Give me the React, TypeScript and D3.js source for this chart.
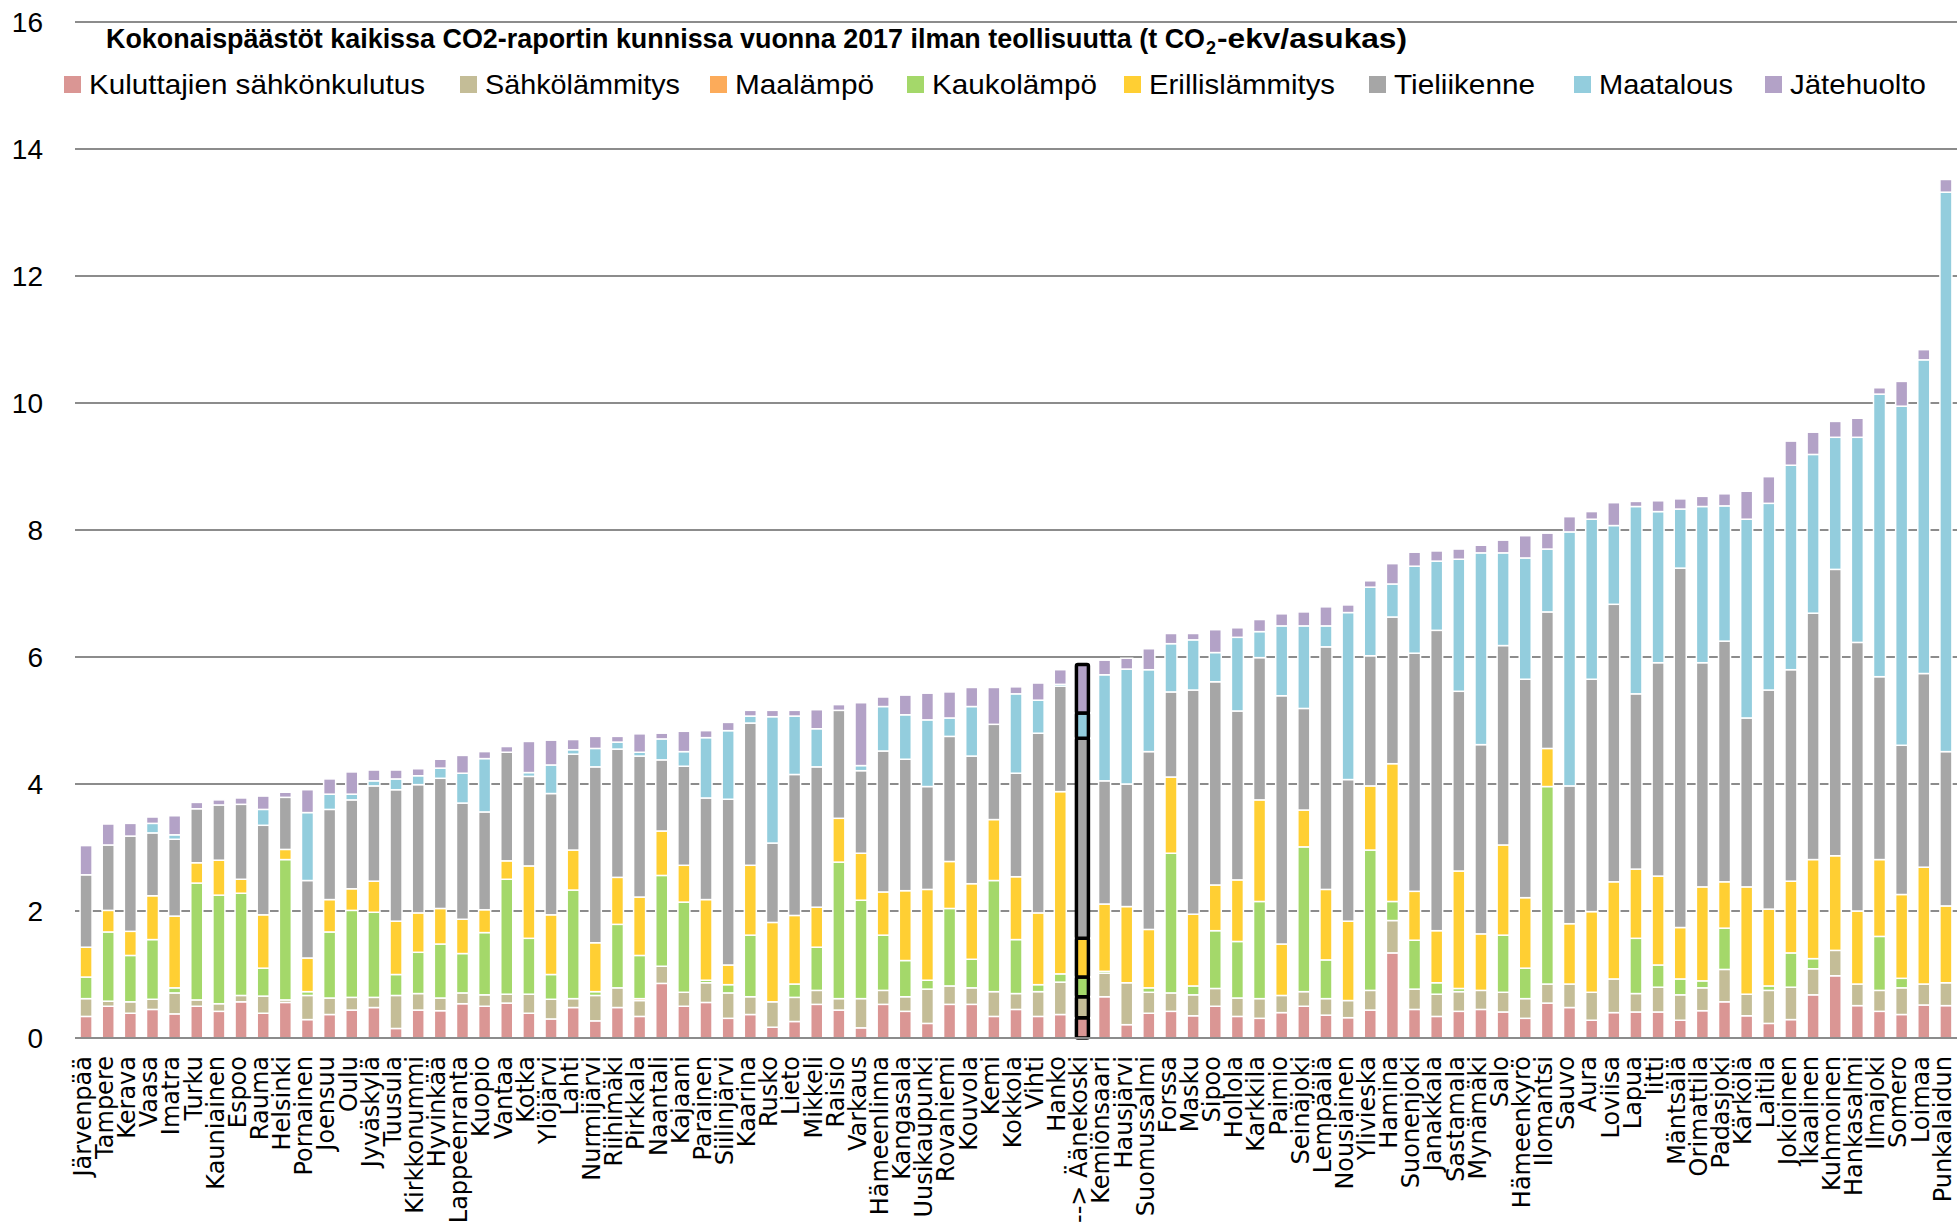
import React from "react";
import * as d3 from "d3";

// Municipalities in ascending order of total per-capita emissions
const municipalities = [
  "Järvenpää", "Tampere", "Kerava", "Vaasa", "Imatra", "Turku", "Kauniainen", "Espoo", "Rauma", "Helsinki",
  "Pornainen", "Joensuu", "Oulu", "Jyväskylä", "Tuusula", "Kirkkonummi", "Hyvinkää", "Lappeenranta", "Kuopio", "Vantaa",
  "Kotka", "Ylöjärvi", "Lahti", "Nurmijärvi", "Riihimäki", "Pirkkala", "Naantali", "Kajaani", "Parainen", "Siilinjärvi",
  "Kaarina", "Rusko", "Lieto", "Mikkeli", "Raisio", "Varkaus", "Hämeenlinna", "Kangasala", "Uusikaupunki", "Rovaniemi",
  "Kouvola", "Kemi", "Kokkola", "Vihti", "Hanko", "--> Äänekoski", "Kemiönsaari", "Hausjärvi", "Suomussalmi", "Forssa",
  "Masku", "Sipoo", "Hollola", "Karkkila", "Paimio", "Seinäjoki", "Lempäälä", "Nousiainen", "Ylivieska", "Hamina",
  "Suonenjoki", "Janakkala", "Sastamala", "Mynämäki", "Salo", "Hämeenkyrö", "Ilomantsi", "Sauvo", "Aura", "Loviisa",
  "Lapua", "Iitti", "Mäntsälä", "Orimattila", "Padasjoki", "Kärkölä", "Laitila", "Jokioinen", "Ikaalinen", "Kuhmoinen",
  "Hankasalmi", "Ilmajoki", "Somero", "Loimaa", "Punkalaidun",
];
const highlighted = "--> Äänekoski";

// t CO2-ekv / asukas per sector
const kuluttajienSahkonkulutus = [
  0.34, 0.50, 0.39, 0.45, 0.38, 0.50, 0.42, 0.57, 0.39, 0.56,
  0.29, 0.37, 0.44, 0.48, 0.15, 0.44, 0.43, 0.54, 0.50, 0.55,
  0.39, 0.30, 0.48, 0.27, 0.48, 0.34, 0.86, 0.50, 0.56, 0.31,
  0.37, 0.17, 0.26, 0.53, 0.44, 0.16, 0.53, 0.42, 0.23, 0.53,
  0.53, 0.34, 0.45, 0.34, 0.37, 0.32, 0.65, 0.21, 0.39, 0.42,
  0.35, 0.50, 0.34, 0.31, 0.40, 0.50, 0.36, 0.32, 0.44, 1.34,
  0.45, 0.34, 0.42, 0.45, 0.41, 0.31, 0.55, 0.48, 0.28, 0.40,
  0.41, 0.41, 0.28, 0.43, 0.57, 0.35, 0.23, 0.29, 0.68, 0.98,
  0.51, 0.42, 0.37, 0.52, 0.51,
];
const sahkolammitys = [
  0.28, 0.08, 0.18, 0.16, 0.33, 0.10, 0.12, 0.10, 0.27, 0.04,
  0.38, 0.26, 0.20, 0.16, 0.52, 0.26, 0.20, 0.17, 0.18, 0.14,
  0.30, 0.31, 0.14, 0.40, 0.31, 0.25, 0.27, 0.22, 0.31, 0.40,
  0.28, 0.40, 0.38, 0.22, 0.18, 0.46, 0.22, 0.23, 0.54, 0.29,
  0.26, 0.39, 0.25, 0.39, 0.51, 0.33, 0.37, 0.66, 0.33, 0.29,
  0.33, 0.28, 0.29, 0.31, 0.27, 0.23, 0.26, 0.27, 0.31, 0.51,
  0.32, 0.35, 0.31, 0.30, 0.31, 0.31, 0.30, 0.37, 0.44, 0.53,
  0.29, 0.39, 0.40, 0.36, 0.51, 0.34, 0.52, 0.51, 0.41, 0.40,
  0.34, 0.33, 0.42, 0.33, 0.36,
];
const maalampo = [
  0, 0, 0, 0, 0, 0, 0, 0, 0, 0,
  0, 0, 0, 0, 0, 0, 0, 0, 0, 0,
  0, 0, 0, 0, 0, 0.03, 0, 0, 0, 0,
  0, 0, 0, 0, 0, 0, 0, 0, 0, 0,
  0, 0, 0, 0, 0, 0, 0, 0, 0, 0,
  0, 0, 0, 0, 0, 0, 0, 0, 0, 0,
  0, 0, 0, 0, 0, 0, 0, 0, 0, 0,
  0, 0, 0, 0, 0, 0, 0, 0, 0, 0,
  0, 0, 0, 0, 0,
];
const kaukolampo = [
  0.34, 1.09, 0.73, 0.94, 0.08, 1.84, 1.71, 1.61, 0.44, 2.21,
  0.06, 1.04, 1.37, 1.34, 0.33, 0.65, 0.85, 0.62, 0.98, 1.81,
  0.88, 0.39, 1.71, 0.06, 1.00, 0.68, 1.43, 1.42, 0.04, 0.13,
  0.97, 0, 0.21, 0.68, 2.15, 1.55, 0.87, 0.57, 0.14, 1.22,
  0.45, 1.75, 0.85, 0.11, 0.13, 0.31, 0.03, 0, 0.07, 2.20,
  0.14, 0.91, 0.89, 1.53, 0, 2.28, 0.61, 0, 2.21, 0.30,
  0.77, 0.18, 0.05, 0, 0.90, 0.48, 3.11, 0, 0, 0,
  0.87, 0.35, 0.25, 0.11, 0.65, 0, 0.07, 0.54, 0.16, 0,
  0, 0.85, 0.15, 0, 0,
];
const erillislammitys = [
  0.47, 0.34, 0.38, 0.69, 1.13, 0.32, 0.55, 0.22, 0.84, 0.16,
  0.53, 0.51, 0.34, 0.49, 0.84, 0.62, 0.56, 0.54, 0.36, 0.29,
  1.14, 0.94, 0.63, 0.77, 0.74, 0.92, 0.70, 0.58, 1.27, 0.31,
  1.10, 1.25, 1.08, 0.63, 0.69, 0.74, 0.68, 1.10, 1.43, 0.74,
  1.19, 0.96, 0.99, 1.13, 2.87, 0.61, 1.06, 1.20, 0.92, 1.20,
  1.13, 0.72, 0.97, 1.60, 0.81, 0.58, 1.11, 1.25, 1.01, 2.17,
  0.77, 0.82, 1.85, 0.89, 1.42, 1.11, 0.60, 0.95, 1.27, 1.53,
  1.09, 1.40, 0.81, 1.48, 0.73, 1.69, 1.21, 1.13, 1.56, 1.49,
  1.15, 1.21, 1.32, 1.84, 1.21,
];
const tieliikenne = [
  1.14, 1.03, 1.50, 0.99, 1.21, 0.85, 0.87, 1.18, 1.41, 0.82,
  1.22, 1.42, 1.40, 1.50, 2.07, 2.02, 2.05, 1.83, 1.54, 1.71,
  1.41, 1.91, 1.51, 2.77, 2.02, 2.22, 1.12, 1.56, 1.60, 2.61,
  2.24, 1.25, 2.22, 2.21, 1.70, 1.30, 2.22, 2.07, 1.62, 1.97,
  2.01, 1.50, 1.63, 2.83, 1.66, 3.15, 1.94, 1.93, 2.80, 1.34,
  3.53, 3.20, 2.66, 2.24, 3.91, 1.60, 3.82, 2.23, 2.05, 2.31,
  3.75, 4.73, 2.83, 2.98, 3.14, 3.44, 2.15, 2.17, 3.66, 4.37,
  2.76, 3.36, 5.66, 3.53, 3.79, 2.66, 3.45, 3.33, 3.88, 4.51,
  4.23, 2.88, 2.35, 3.05, 2.43,
];
const maatalous = [
  0, 0, 0, 0.15, 0.07, 0, 0, 0, 0.25, 0,
  1.07, 0.24, 0.09, 0.08, 0.17, 0.14, 0.16, 0.47, 0.84, 0,
  0.06, 0.45, 0.07, 0.29, 0.11, 0.06, 0.33, 0.23, 0.95, 1.08,
  0.11, 1.99, 0.92, 0.60, 0, 0.08, 0.70, 0.70, 1.05, 0.29,
  0.78, 0, 1.25, 0.52, 0.03, 0.40, 1.67, 1.81, 1.29, 0.76,
  0.79, 0.46, 1.16, 0.41, 1.10, 1.30, 0.33, 2.63, 1.08, 0.52,
  1.37, 1.09, 2.08, 3.02, 1.46, 1.91, 0.99, 4.00, 2.52, 1.24,
  2.95, 2.38, 0.93, 2.46, 2.13, 3.13, 2.94, 3.22, 2.50, 2.08,
  3.23, 4.45, 5.34, 4.94, 8.81,
];
const jatehuolto = [
  0.46, 0.33, 0.20, 0.10, 0.30, 0.10, 0.08, 0.10, 0.21, 0.08,
  0.36, 0.24, 0.35, 0.17, 0.14, 0.11, 0.14, 0.28, 0.11, 0.09,
  0.49, 0.39, 0.16, 0.19, 0.09, 0.29, 0.09, 0.32, 0.11, 0.13,
  0.09, 0.10, 0.09, 0.30, 0.09, 0.99, 0.15, 0.31, 0.42, 0.41,
  0.30, 0.58, 0.11, 0.27, 0.23, 0.76, 0.23, 0.17, 0.33, 0.16,
  0.10, 0.36, 0.15, 0.19, 0.19, 0.22, 0.30, 0.12, 0.10, 0.32,
  0.22, 0.16, 0.16, 0.12, 0.20, 0.35, 0.25, 0.24, 0.12, 0.36,
  0.08, 0.17, 0.16, 0.16, 0.19, 0.44, 0.42, 0.38, 0.35, 0.25,
  0.30, 0.10, 0.39, 0.16, 0.20,
];

const seriesNames = [
  "Kuluttajien sähkönkulutus", "Sähkölämmitys", "Maalämpö", "Kaukolämpö",
  "Erillislämmitys", "Tieliikenne", "Maatalous", "Jätehuolto",
];
const seriesValues = [
  kuluttajienSahkonkulutus, sahkolammitys, maalampo, kaukolampo,
  erillislammitys, tieliikenne, maatalous, jatehuolto,
];
const seriesColors = [
  "#DA9694", "#C4BD97", "#FCAB5A", "#A4D86A",
  "#FFCF33", "#A6A6A6", "#93CDDD", "#B3A2C7",
];
const yTicks = [0, 2, 4, 6, 8, 10, 12, 14, 16];

const titleMain = "Kokonaispäästöt kaikissa CO2-raportin kunnissa vuonna 2017 ilman teollisuutta (t CO";
const titleSub = "2";
const titleEnd = "-ekv/asukas)";

const W = 1957;
const H = 1224;
const calibriLike = "'Liberation Sans Narrow', 'Liberation Sans', Arial, sans-serif";

// legend layout: swatch x, text width
const legendLayout = [
  { x: 64, w: 336 }, { x: 460, w: 195 }, { x: 710, w: 139 }, { x: 907, w: 165 },
  { x: 1124, w: 186 }, { x: 1369, w: 141 }, { x: 1574, w: 134 }, { x: 1765, w: 136 },
];

export default function App() {
  const x = d3
    .scaleBand<string>()
    .domain(municipalities)
    .range([75, W])
    .paddingInner(0.458)
    .paddingOuter(0.229);
  const y = d3.scaleLinear().domain([0, 16]).range([1038, 22]);

  const keys = seriesNames.map((_, i) => `s${i}`);
  const rows = municipalities.map((name, i) => {
    const r: Record<string, any> = { name };
    seriesValues.forEach((arr, k) => (r[`s${k}`] = arr[i]));
    return r;
  });
  const stacked = d3.stack<Record<string, any>>().keys(keys)(rows);

  const bw = x.bandwidth();

  return (
    <svg
      width={W}
      height={H}
      viewBox={`0 0 ${W} ${H}`}
      style={{ position: "absolute", left: 0, top: 0, background: "#fff", overflow: "hidden" }}
    >
      <rect x={0} y={0} width={W} height={H} fill="#fff" />

      {/* gridlines */}
      {yTicks.map((t) => (
        <line key={t} x1={75} x2={W} y1={y(t)} y2={y(t)} stroke="#8C8C8C" strokeWidth={2} />
      ))}

      {/* y tick labels */}
      {yTicks.map((t) => (
        <text
          key={`yl${t}`}
          x={43}
          y={y(t)}
          dy="0.35em"
          textAnchor="end"
          fontFamily={calibriLike}
          fontSize={28}
          fill="#000"
        >
          {t}
        </text>
      ))}

      {/* stacked bars */}
      {stacked.map((layer, k) => (
        <g key={layer.key}>
          {layer.map((d, i) => {
            const name = municipalities[i];
            const h = y(d[0]) - y(d[1]);
            if (h <= 0.01) return null;
            const hl = name === highlighted;
            return (
              <rect
                key={name}
                x={x(name)}
                y={y(d[1])}
                width={bw}
                height={h}
                fill={seriesColors[k]}
                stroke={hl ? "#000" : "#fff"}
                strokeWidth={hl ? 3.5 : 1.5}
                rx={hl ? 1.5 : 0}
              />
            );
          })}
        </g>
      ))}

      {/* baseline */}
      <line x1={75} x2={W} y1={y(0)} y2={y(0)} stroke="#8C8C8C" strokeWidth={2} />

      {/* category labels */}
      {municipalities.map((name) => {
        const cx = (x(name) ?? 0) + bw / 2;
        return (
          <text
            key={`xl${name}`}
            transform={`translate(${cx},1056) rotate(-90)`}
            textAnchor="end"
            dy="0.2em"
            fontFamily="'DejaVu Sans', sans-serif"
            fontSize={24}
            fill="#000"
          >
            {name}
          </text>
        );
      })}

      {/* title */}
      <g fontFamily={calibriLike} fontWeight="bold" fill="#000">
        <text x={106} y={48} fontSize={27} textLength={1099} lengthAdjust="spacingAndGlyphs">
          {titleMain}
        </text>
        <text x={1206} y={54} fontSize={18}>
          {titleSub}
        </text>
        <text x={1217} y={48} fontSize={27} textLength={190} lengthAdjust="spacingAndGlyphs">
          {titleEnd}
        </text>
      </g>

      {/* legend */}
      {seriesNames.map((s, i) => (
        <g key={`lg${s}`}>
          <rect x={legendLayout[i].x} y={76} width={17} height={17} fill={seriesColors[i]} />
          <text
            x={legendLayout[i].x + 25}
            y={94}
            fontFamily={calibriLike}
            fontSize={28}
            fill="#000"
            textLength={legendLayout[i].w}
            lengthAdjust="spacingAndGlyphs"
          >
            {s}
          </text>
        </g>
      ))}
    </svg>
  );
}
